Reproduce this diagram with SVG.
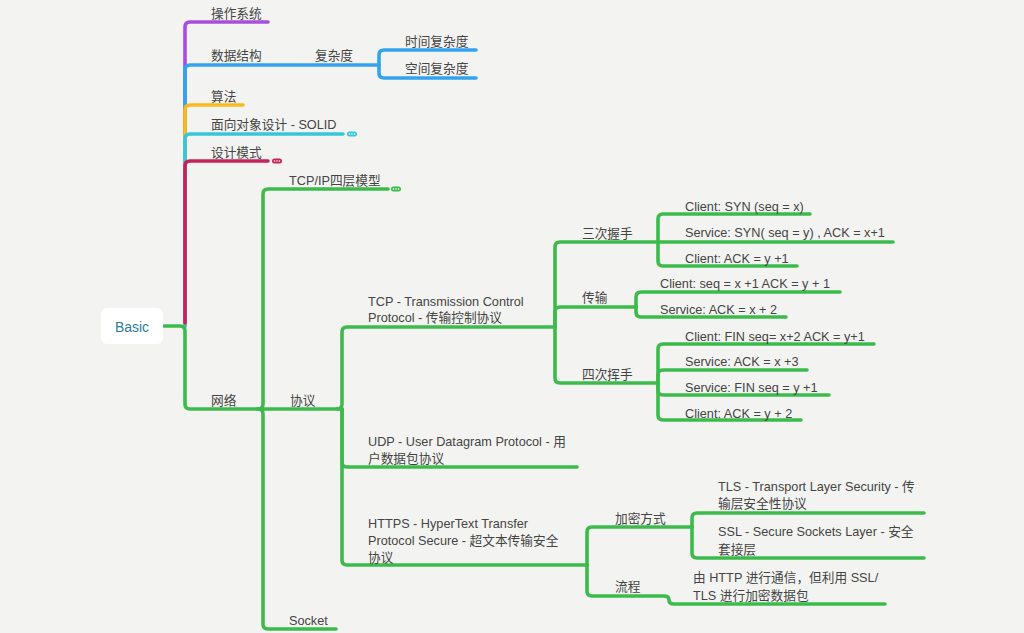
<svg xmlns="http://www.w3.org/2000/svg" width="1024" height="633" viewBox="0 0 1024 633">
<style>
text{font-family:"Liberation Sans","Noto Sans CJK SC",sans-serif;font-size:12.7px;fill:#444}
.l{fill:none;stroke-width:3.6;stroke-linecap:round;stroke-linejoin:round}
.g{stroke:#3cbb4c}.pu{stroke:#a94ddc}.bl{stroke:#33a3ef}.ye{stroke:#f7bb1e}.cy{stroke:#37c6da}.cr{stroke:#c4225b}
.dot{fill:#fff}
</style>
<rect width="1024" height="633" fill="#f3f4f1"/>
<g id="connectors">
<path class="l pu" d="M185,326 V27 Q185,22 190,22 H268"/>
<path class="l bl" d="M185,326 V70 Q185,65 190,65 H379"/>
<path class="l bl" d="M379,65 V55 Q379,50 384,50 H476"/>
<path class="l bl" d="M379,65 V73 Q379,78 384,78 H476"/>
<path class="l ye" d="M185,326 V110 Q185,105 190,105 H243"/>
<path class="l cy" d="M185,326 V139 Q185,134 190,134 H343"/>
<path class="l cr" d="M185,323 V166 Q185,161 190,161 H268"/>
<path class="l g" d="M164,326 H180 Q185,326 185,331 V404 Q185,409 190,409 H263"/>
<path class="l g" d="M258,409 Q263,409 263,404 V194 Q263,189 268,189 H388"/>
<path class="l g" d="M263,409 H342"/>
<path class="l g" d="M258,409 Q263,409 263,414 V624 Q263,629 268,629 H336"/>
<path class="l g" d="M337,409 Q342,409 342,404 V332 Q342,327 347,327 H555"/>
<path class="l g" d="M342,409 V462 Q342,467 347,467 H577"/>
<path class="l g" d="M342,409 V560 Q342,565 347,565 H587"/>
<path class="l g" d="M555,327 V247 Q555,242 560,242 H658"/>
<path class="l g" d="M555,327 V312 Q555,307 560,307 H636"/>
<path class="l g" d="M555,327 V378 Q555,383 560,383 H658"/>
<path class="l g" d="M658,242 V219 Q658,214 663,214 H810"/>
<path class="l g" d="M658,242 H893"/>
<path class="l g" d="M658,242 V261 Q658,266 663,266 H797"/>
<path class="l g" d="M636,307 V297 Q636,292 641,292 H840"/>
<path class="l g" d="M636,307 V312 Q636,317 641,317 H786"/>
<path class="l g" d="M658,383 V349 Q658,344 663,344 H874"/>
<path class="l g" d="M658,383 V375 Q658,370 663,370 H807"/>
<path class="l g" d="M658,383 V390 Q658,395 663,395 H829"/>
<path class="l g" d="M658,383 V415 Q658,420 663,420 H801"/>
<path class="l g" d="M587,565 V532 Q587,527 592,527 H692"/>
<path class="l g" d="M587,565 V591 Q587,596 592,596 H664 Q669,596 669,600 Q669,604 674,604 H885"/>
<path class="l g" d="M692,527 V518 Q692,513 697,513 H924"/>
<path class="l g" d="M692,527 V553 Q692,558 697,558 H924"/>
</g>
<g id="root">
<rect x="101" y="308" width="62" height="36" rx="6" fill="#fff"/>
<text x="132" y="332" text-anchor="middle" style="font-size:14px;fill:#2e7c9c">Basic</text>
</g>
<g id="n-os"><text x="211" y="18">操作系统</text></g>
<g id="n-ds"><text x="211" y="60">数据结构</text></g>
<g id="n-complex"><text x="315" y="60">复杂度</text></g>
<g id="n-time"><text x="405" y="46">时间复杂度</text></g>
<g id="n-space"><text x="405" y="73">空间复杂度</text></g>
<g id="n-algo"><text x="211" y="101">算法</text></g>
<g id="n-oop"><text x="211" y="129">面向对象设计 - SOLID</text>
<rect x="347" y="131.5" width="10" height="5" rx="2.5" fill="#37c6da"/><circle class="dot" cx="349.5" cy="134" r="0.8"/><circle class="dot" cx="352" cy="134" r="0.8"/><circle class="dot" cx="354.5" cy="134" r="0.8"/></g>
<g id="n-pattern"><text x="211" y="157">设计模式</text>
<rect x="272" y="158.5" width="10" height="5" rx="2.5" fill="#c4225b"/><circle class="dot" cx="274.5" cy="161" r="0.8"/><circle class="dot" cx="277" cy="161" r="0.8"/><circle class="dot" cx="279.5" cy="161" r="0.8"/></g>
<g id="n-net"><text x="211" y="405">网络</text></g>
<g id="n-tcpip"><text x="289" y="184.5">TCP/IP四层模型</text>
<rect x="391" y="186.5" width="10" height="5" rx="2.5" fill="#3cbb4c"/><circle class="dot" cx="393.5" cy="189" r="0.8"/><circle class="dot" cx="396" cy="189" r="0.8"/><circle class="dot" cx="398.5" cy="189" r="0.8"/></g>
<g id="n-proto"><text x="290" y="405">协议</text></g>
<g id="n-socket"><text x="289" y="625">Socket</text></g>
<g id="n-tcp"><text x="368" y="306">TCP - Transmission Control</text><text x="368" y="322">Protocol - 传输控制协议</text></g>
<g id="n-udp"><text x="368" y="445.5">UDP - User Datagram Protocol - 用</text><text x="368" y="463">户数据包协议</text></g>
<g id="n-https"><text x="368" y="528">HTTPS - HyperText Transfer</text><text x="368" y="545">Protocol Secure - 超文本传输安全</text><text x="368" y="562">协议</text></g>
<g id="n-3way"><text x="582" y="238">三次握手</text></g>
<g id="n-trans"><text x="582" y="302">传输</text></g>
<g id="n-4way"><text x="582" y="378.5">四次挥手</text></g>
<g id="n-syn1"><text x="685" y="211">Client: SYN (seq = x)</text></g>
<g id="n-syn2"><text x="685" y="237">Service: SYN( seq = y) , ACK = x+1</text></g>
<g id="n-syn3"><text x="685" y="263">Client: ACK = y +1</text></g>
<g id="n-tr1"><text x="660" y="288">Client: seq = x +1 ACK = y + 1</text></g>
<g id="n-tr2"><text x="660" y="314">Service: ACK = x + 2</text></g>
<g id="n-fin1"><text x="685" y="341">Client: FIN seq= x+2 ACK = y+1</text></g>
<g id="n-fin2"><text x="685" y="366">Service: ACK = x +3</text></g>
<g id="n-fin3"><text x="685" y="392">Service: FIN seq = y +1</text></g>
<g id="n-fin4"><text x="685" y="418">Client: ACK = y + 2</text></g>
<g id="n-enc"><text x="615" y="523">加密方式</text></g>
<g id="n-flow"><text x="615" y="591">流程</text></g>
<g id="n-tls"><text x="718" y="491">TLS - Transport Layer Security - 传</text><text x="718" y="508">输层安全性协议</text></g>
<g id="n-ssl"><text x="718" y="536">SSL - Secure Sockets Layer - 安全</text><text x="718" y="554">套接层</text></g>
<g id="n-flowtxt"><text x="693" y="582">由 HTTP 进行通信，但利用 SSL/</text><text x="693" y="600">TLS 进行加密数据包</text></g>
</svg>
